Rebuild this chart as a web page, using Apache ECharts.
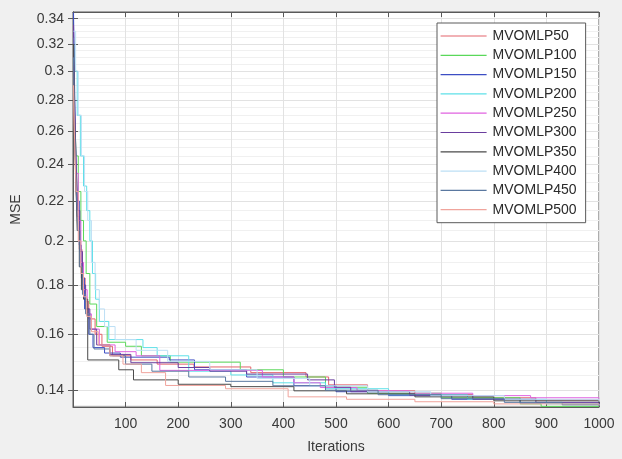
<!DOCTYPE html>
<html>
<head>
<meta charset="utf-8">
<title>MSE convergence</title>
<script src="https://cdn.jsdelivr.net/npm/echarts@6/dist/echarts.min.js"></script>
<style>
  html, body { margin: 0; padding: 0; background: #f0f0f0; }
  #chart { width: 622px; height: 459px; }
</style>
</head>
<body>
<div id="chart"></div>
<script>
// Best-so-far MSE of each trainer, as [iteration, MSE] points where the value changes
const seriesNames = ['MVOMLP50', 'MVOMLP100', 'MVOMLP150', 'MVOMLP200', 'MVOMLP250',
                     'MVOMLP300', 'MVOMLP350', 'MVOMLP400', 'MVOMLP450', 'MVOMLP500'];

const mse50 = [[1,0.285],[3,0.255],[5,0.232],[8,0.212],[12,0.196],[17,0.183],[23,0.173],[30,0.166],
  [42,0.160],[55,0.1555],[75,0.152],[110,0.1505],[160,0.149],[230,0.148],[338,0.146],[443,0.1445],
  [486,0.1418],[560,0.1398],[650,0.1385],[760,0.1375],[880,0.1368],[1000,0.1365]];
const mse100 = [[1,0.300],[3,0.270],[6,0.245],[10,0.225],[15,0.210],[20,0.200],[25,0.185],[32,0.172],
  [45,0.163],[65,0.157],[100,0.1555],[130,0.152],[185,0.1497],[318,0.147],[400,0.1445],[480,0.141],
  [560,0.139],[700,0.1375],[850,0.1355],[890,0.1347],[1000,0.1347]];
const mse150 = [[1,0.345],[3,0.290],[5,0.250],[8,0.220],[12,0.198],[16,0.183],[22,0.170],[30,0.160],
  [38,0.155],[60,0.153],[90,0.1515],[183,0.1505],[231,0.147],[330,0.1445],[420,0.1415],[500,0.1395],
  [600,0.1382],[720,0.137],[850,0.1358],[1000,0.1352]];
const mse200 = [[1,0.325],[4,0.300],[8,0.270],[14,0.245],[20,0.228],[26,0.215],[32,0.200],[37,0.185],
  [43,0.174],[50,0.165],[68,0.158],[133,0.155],[160,0.152],[220,0.1465],[300,0.1452],[380,0.1425],
  [480,0.1405],[600,0.1385],[750,0.137],[900,0.1355],[1000,0.135]];
const mse250 = [[1,0.310],[3,0.270],[6,0.235],[10,0.210],[15,0.190],[20,0.178],[27,0.168],[35,0.162],
  [50,0.156],[80,0.1535],[120,0.152],[165,0.1468],[360,0.1445],[420,0.1425],[470,0.1409],[540,0.1398],
  [640,0.139],[760,0.1382],[870,0.1375],[1000,0.1372]];
const mse300 = [[1,0.335],[3,0.280],[6,0.240],[9,0.215],[13,0.195],[18,0.180],[24,0.170],[32,0.162],
  [45,0.156],[70,0.1525],[110,0.1495],[200,0.1478],[260,0.1465],[330,0.1455],[446,0.1435],[497,0.141],
  [528,0.1395],[640,0.1383],[760,0.137],[880,0.136],[1000,0.1355]];
const mse350 = [[1,0.320],[3,0.270],[5,0.235],[8,0.205],[12,0.188],[16,0.178],[20,0.174],[28,0.1505],
  [87,0.147],[115,0.1435],[200,0.142],[300,0.1412],[420,0.1398],[520,0.1388],[650,0.1378],[800,0.1365],
  [1000,0.1358]];
const mse400 = [[1,0.330],[5,0.300],[10,0.270],[16,0.245],[22,0.225],[28,0.210],[35,0.190],[42,0.178],
  [50,0.170],[60,0.163],[80,0.158],[120,0.154],[180,0.150],[260,0.147],[350,0.144],[450,0.1415],
  [560,0.1395],[680,0.1382],[820,0.137],[1000,0.1362]];
const mse450 = [[1,0.310],[3,0.265],[6,0.228],[9,0.205],[13,0.188],[18,0.176],[24,0.168],[32,0.160],
  [40,0.1545],[70,0.152],[100,0.149],[150,0.1465],[220,0.1445],[290,0.143],[380,0.1415],[480,0.140],
  [580,0.1385],[700,0.1372],[820,0.136],[930,0.1352],[1000,0.1348]];
const mse500 = [[1,0.290],[3,0.255],[6,0.225],[10,0.200],[15,0.185],[20,0.175],[26,0.167],[35,0.161],
  [48,0.156],[70,0.152],[95,0.149],[130,0.146],[176,0.1416],[290,0.1405],[409,0.1378],[520,0.137],
  [650,0.1362],[800,0.1355],[1000,0.135]];

const seriesData = [mse50, mse100, mse150, mse200, mse250, mse300, mse350, mse400, mse450, mse500];

// Axis ticks
const xTicks = [100, 200, 300, 400, 500, 600, 700, 800, 900, 1000];
const yTicks = [0.14, 0.16, 0.18, 0.2, 0.22, 0.24, 0.26, 0.28, 0.3, 0.32, 0.34];
const yMinorTicks = [0.135, 0.145, 0.15, 0.155, 0.165, 0.17, 0.175, 0.185, 0.19, 0.195, 0.205, 0.21,
  0.215, 0.225, 0.23, 0.235, 0.245, 0.25, 0.255, 0.265, 0.27, 0.275, 0.285, 0.29, 0.295, 0.305, 0.31,
  0.315, 0.325, 0.33, 0.335, 0.345];

const palette = ['#e4646c', '#5ad85a', '#3c4ec4', '#5ee0e8', '#e062e0',
                 '#6a3e9e', '#4a4a4a', '#bcdff5', '#5a78a0', '#f0a49c'];

const Y_MIN = 0.1345, Y_MAX = 0.3455;
const FONT = '"Liberation Sans", Arial, sans-serif';
const AXIS_COLOR = '#5a5a5a';
const TEXT_COLOR = '#3a3a3a';

const chart = echarts.init(document.getElementById('chart'), null, { renderer: 'canvas' });

const baseY = {
  type: 'log', min: Y_MIN, max: Y_MAX, logBase: 10,
  axisLine: { show: true, lineStyle: { color: AXIS_COLOR } },
  axisLabel: { show: false },
  splitLine: { show: false },
  minorTick: { show: false },
  minorSplitLine: { show: false }
};

chart.setOption({
  animation: false,
  backgroundColor: '#f0f0f0',
  grid: {
    left: 73, right: 23, top: 12, bottom: 51,
    show: true, backgroundColor: '#ffffff', borderColor: AXIS_COLOR, borderWidth: 1
  },
  textStyle: { fontFamily: FONT },
  legend: {
    orient: 'vertical',
    left: 437, top: 23,
    padding: [6, 9, 6, 3],
    itemWidth: 46, itemHeight: 10, itemGap: 5.3,
    itemStyle: { opacity: 0 },
    lineStyle: { width: 1.2 },
    backgroundColor: '#ffffff',
    borderColor: '#5a5a5a', borderWidth: 1,
    textStyle: { fontFamily: FONT, fontSize: 14, color: '#2a2a2a', padding: [0, 0, 0, 1] },
    data: seriesNames
  },
  xAxis: [
    {
      type: 'value', min: 0, max: 1000, interval: 100, position: 'bottom',
      name: 'Iterations', nameLocation: 'middle', nameGap: 33,
      nameTextStyle: { fontFamily: FONT, fontSize: 14, color: TEXT_COLOR },
      axisLine: { show: true, onZero: false, lineStyle: { color: AXIS_COLOR } },
      axisTick: { show: true, inside: true, length: 5, lineStyle: { color: AXIS_COLOR } },
      axisLabel: { fontFamily: FONT, fontSize: 14, color: TEXT_COLOR, margin: 10,
                   customValues: xTicks, formatter: v => String(v) },
      splitLine: { show: true, lineStyle: { color: '#e2e2e2', width: 1 } }
    },
    {
      type: 'value', min: 0, max: 1000, interval: 100, position: 'top',
      axisLine: { show: true, onZero: false, lineStyle: { color: AXIS_COLOR } },
      axisTick: { show: true, inside: true, length: 5, lineStyle: { color: AXIS_COLOR } },
      axisLabel: { show: false },
      splitLine: { show: false }
    }
  ],
  yAxis: [
    Object.assign({}, baseY, {
      position: 'left',
      name: 'MSE', nameLocation: 'middle', nameGap: 50, nameRotate: 90,
      nameTextStyle: { fontFamily: FONT, fontSize: 14, color: TEXT_COLOR },
      axisTick: { show: true, inside: true, length: 5, lineStyle: { color: AXIS_COLOR }, customValues: yTicks },
      axisLabel: {
        show: true, fontFamily: FONT, fontSize: 14, color: TEXT_COLOR, margin: 9,
        customValues: yTicks,
        formatter: v => String(+v.toFixed(2))
      },
      splitLine: { show: true, lineStyle: { color: '#e2e2e2', width: 1 } }
    }),
    Object.assign({}, baseY, {
      position: 'right',
      axisTick: { show: true, inside: true, length: 5, lineStyle: { color: AXIS_COLOR }, customValues: yTicks }
    }),
    Object.assign({}, baseY, {
      position: 'left',
      axisLine: { show: false },
      axisTick: { show: false, customValues: yMinorTicks },
      splitLine: { show: true, lineStyle: { color: '#f0f0f0', width: 1 } }
    })
  ],
  series: seriesNames.map((name, i) => ({
    name: name,
    type: 'line',
    step: 'end',
    xAxisIndex: 0,
    yAxisIndex: 0,
    symbol: 'none',
    lineStyle: { width: 1, color: palette[i] },
    itemStyle: { color: palette[i] },
    data: seriesData[i],
    z: 3 + i
  }))
});
</script>
</body>
</html>
